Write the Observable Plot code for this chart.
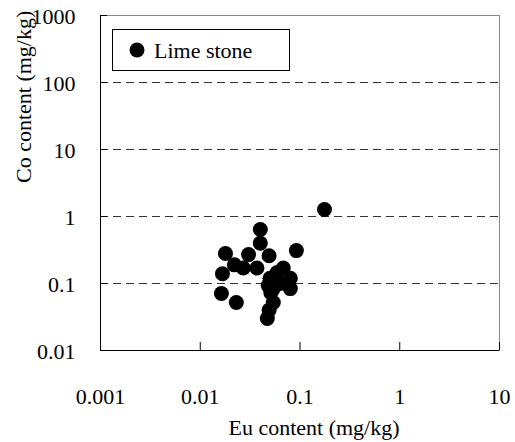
<!DOCTYPE html>
<html>
<head>
<meta charset="utf-8">
<script src="https://cdn.jsdelivr.net/npm/d3@7"></script>
<script src="https://cdn.jsdelivr.net/npm/@observablehq/plot@0.6"></script>
<style>
  html, body { margin: 0; padding: 0; background: #fff; }
</style>
</head>
<body>
<div id="chart"></div>
<script>
const seriesName = "Lime stone";
const euContent = [0.176, 0.040, 0.040, 0.0179, 0.0305, 0.092, 0.049, 0.022, 0.027, 0.037, 0.0167, 0.068, 0.059, 0.080, 0.050, 0.048, 0.063, 0.080, 0.054, 0.0163, 0.023, 0.054, 0.049, 0.047, 0.051];
const coContent = [1.27, 0.64, 0.40, 0.28, 0.27, 0.31, 0.26, 0.19, 0.17, 0.17, 0.14, 0.17, 0.146, 0.12, 0.12, 0.093, 0.10, 0.084, 0.084, 0.071, 0.052, 0.052, 0.040, 0.030, 0.073];
const xTicks = [0.001, 0.01, 0.1, 1, 10];
const yTicks = [0.01, 0.1, 1, 10, 100, 1000];
const yGrid = [0.1, 1, 10, 100];
const xLabel = "Eu content (mg/kg)";
const yLabel = "Co content (mg/kg)";

const points = euContent.map((x, i) => ({x, y: coContent[i]}));
const FONT = "Liberation Serif";
const FS = 22;

const plot = Plot.plot({
  width: 515,
  height: 442,
  marginTop: 15,
  marginBottom: 92,
  marginLeft: 100,
  marginRight: 16,
  style: {fontFamily: FONT, fontSize: FS + "px", color: "#000", background: "#fff"},
  x: {type: "log", domain: [0.001, 10]},
  y: {type: "log", domain: [0.01, 1000]},
  marks: [
    Plot.ruleY(yGrid, {y: d => d, stroke: "#333", strokeDasharray: "8,5", strokeWidth: 1}),
    Plot.frame({stroke: "#888"}),
    Plot.ruleX([0.001], {stroke: "#000"}),
    Plot.ruleY([0.01], {stroke: "#000"}),
    Plot.tickX(xTicks, {x: d => d, insetTop: 327, stroke: "#000"}),
    Plot.tickY(yTicks, {y: d => d, insetRight: 392, stroke: "#000"}),
    Plot.axisX({ticks: xTicks, tickFormat: d => String(d), tickSize: 0, tickPadding: 38, fontSize: FS, fontFamily: FONT, label: null}),
    Plot.axisY({ticks: yTicks, tickFormat: d => String(d), tickSize: 0, tickPadding: 25, fontSize: FS, fontFamily: FONT, label: null, dy: 1}),
    Plot.dot(points, {x: "x", y: "y", r: 7.5, fill: "#000", stroke: "none"}),
    Plot.text([xLabel], {text: d => d, frameAnchor: "bottom", lineAnchor: "bottom", dy: 84, dx: 14, fontSize: FS, fontFamily: FONT}),
    Plot.text([yLabel], {text: d => d, frameAnchor: "left", lineAnchor: "bottom", rotate: -90, dx: -70, fontSize: FS, fontFamily: FONT})
  ]
});

const svg = d3.select(plot);
// legend box inside the plot area
const lg = svg.append("g").attr("aria-label", "legend");
lg.append("rect").attr("x", 112.5).attr("y", 29.5).attr("width", 177).attr("height", 41)
  .attr("fill", "#fff").attr("stroke", "#000").attr("stroke-width", 1);
lg.append("circle").attr("cx", 137).attr("cy", 50).attr("r", 7.5).attr("fill", "#000");
lg.append("text").attr("x", 154).attr("y", 58).attr("font-size", FS).attr("font-family", FONT)
  .attr("text-anchor", "start").attr("fill", "#000").text(seriesName);

document.getElementById("chart").appendChild(plot);
</script>
</body>
</html>
